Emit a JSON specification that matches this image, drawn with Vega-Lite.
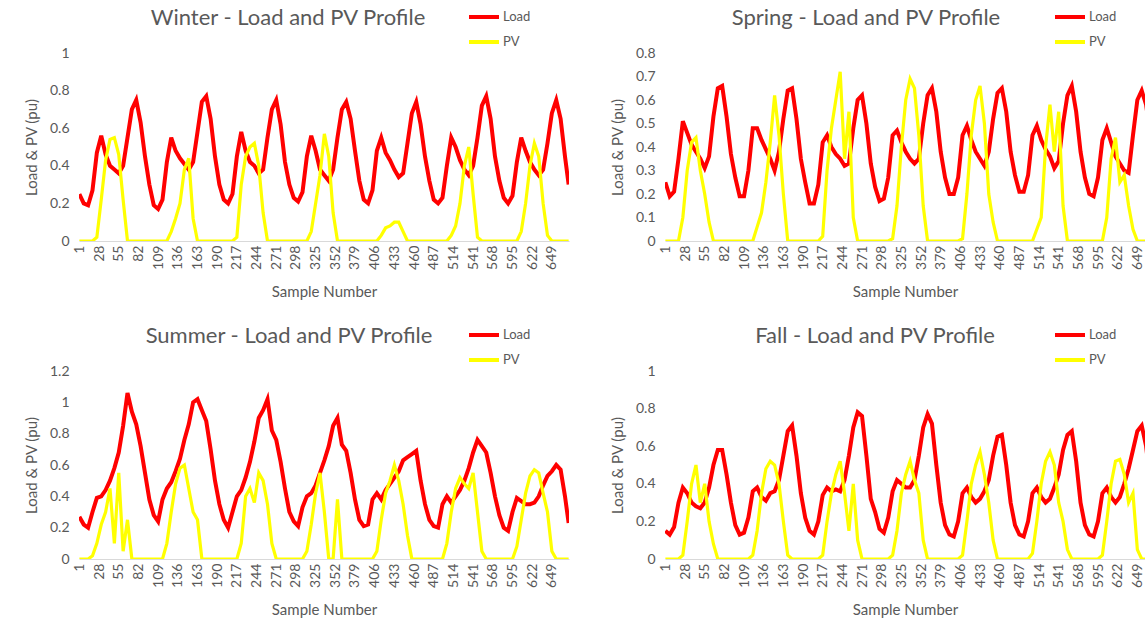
{
"$schema": "https://vega.github.io/schema/vega-lite/v6.json",
"background": "white",
"padding": {"left": 24, "top": 0, "right": 0, "bottom": 0},
"config": {
  "font": "Lato",
  "view": {"stroke": null},
  "axis": {"labelColor": "#595959", "titleColor": "#595959", "labelFont": "Lato", "titleFont": "Lato", "labelFontSize": 14, "titleFontSize": 15, "titleFontWeight": "normal", "grid": false, "ticks": false, "labelOverlap": false, "labelBound": false, "labelFlush": false},
  "title": {"fontSize": 22, "color": "#595959", "fontWeight": "normal", "font": "Lato", "anchor": "middle", "offset": -30},
  "legend": {"symbolType": "stroke", "symbolStrokeWidth": 4, "symbolSize": 900, "labelFontSize": 13, "labelColor": "#595959", "labelFont": "Lato", "rowPadding": -2, "labelOffset": 2, "direction": "vertical"}
},
"datasets": {"d": [
{"x":1,"wl":0.25,"wp":0,"sl":0.25,"sp":0,"ul":0.27,"up":0,"fl":0.15,"fp":0},
{"x":7,"wl":0.20,"wp":0,"sl":0.19,"sp":0,"ul":0.22,"up":0,"fl":0.13,"fp":0},
{"x":13,"wl":0.19,"wp":0,"sl":0.21,"sp":0,"ul":0.20,"up":0,"fl":0.17,"fp":0},
{"x":19,"wl":0.27,"wp":0,"sl":0.35,"sp":0,"ul":0.30,"up":0.02,"fl":0.30,"fp":0},
{"x":25,"wl":0.47,"wp":0.02,"sl":0.51,"sp":0.1,"ul":0.39,"up":0.1,"fl":0.38,"fp":0.02},
{"x":31,"wl":0.56,"wp":0.22,"sl":0.46,"sp":0.3,"ul":0.40,"up":0.22,"fl":0.35,"fp":0.2},
{"x":37,"wl":0.46,"wp":0.43,"sl":0.41,"sp":0.42,"ul":0.44,"up":0.3,"fl":0.30,"fp":0.4},
{"x":43,"wl":0.40,"wp":0.54,"sl":0.38,"sp":0.44,"ul":0.50,"up":0.45,"fl":0.28,"fp":0.5},
{"x":49,"wl":0.38,"wp":0.55,"sl":0.35,"sp":0.3,"ul":0.58,"up":0.1,"fl":0.27,"fp":0.3},
{"x":55,"wl":0.36,"wp":0.46,"sl":0.31,"sp":0.2,"ul":0.68,"up":0.55,"fl":0.30,"fp":0.4},
{"x":61,"wl":0.40,"wp":0.22,"sl":0.36,"sp":0.08,"ul":0.85,"up":0.05,"fl":0.38,"fp":0.2},
{"x":67,"wl":0.55,"wp":0,"sl":0.53,"sp":0,"ul":1.06,"up":0.25,"fl":0.50,"fp":0.08},
{"x":73,"wl":0.70,"wp":0,"sl":0.65,"sp":0,"ul":0.94,"up":0,"fl":0.58,"fp":0},
{"x":79,"wl":0.75,"wp":0,"sl":0.66,"sp":0,"ul":0.86,"up":0,"fl":0.58,"fp":0},
{"x":85,"wl":0.63,"wp":0,"sl":0.53,"sp":0,"ul":0.72,"up":0,"fl":0.45,"fp":0},
{"x":91,"wl":0.45,"wp":0,"sl":0.37,"sp":0,"ul":0.55,"up":0,"fl":0.30,"fp":0},
{"x":97,"wl":0.30,"wp":0,"sl":0.27,"sp":0,"ul":0.38,"up":0,"fl":0.18,"fp":0},
{"x":103,"wl":0.19,"wp":0,"sl":0.19,"sp":0,"ul":0.28,"up":0,"fl":0.13,"fp":0},
{"x":109,"wl":0.17,"wp":0,"sl":0.19,"sp":0,"ul":0.24,"up":0,"fl":0.14,"fp":0},
{"x":115,"wl":0.22,"wp":0,"sl":0.30,"sp":0,"ul":0.38,"up":0,"fl":0.22,"fp":0},
{"x":121,"wl":0.42,"wp":0,"sl":0.48,"sp":0,"ul":0.45,"up":0.1,"fl":0.36,"fp":0.02},
{"x":127,"wl":0.55,"wp":0.05,"sl":0.48,"sp":0.06,"ul":0.49,"up":0.3,"fl":0.38,"fp":0.15},
{"x":133,"wl":0.48,"wp":0.12,"sl":0.43,"sp":0.12,"ul":0.56,"up":0.48,"fl":0.33,"fp":0.35},
{"x":139,"wl":0.44,"wp":0.2,"sl":0.39,"sp":0.25,"ul":0.64,"up":0.58,"fl":0.31,"fp":0.48},
{"x":145,"wl":0.41,"wp":0.38,"sl":0.35,"sp":0.42,"ul":0.76,"up":0.6,"fl":0.35,"fp":0.52},
{"x":151,"wl":0.38,"wp":0.44,"sl":0.30,"sp":0.62,"ul":0.86,"up":0.45,"fl":0.36,"fp":0.5},
{"x":157,"wl":0.42,"wp":0.12,"sl":0.38,"sp":0.45,"ul":1.00,"up":0.3,"fl":0.42,"fp":0.4},
{"x":163,"wl":0.58,"wp":0,"sl":0.52,"sp":0.2,"ul":1.02,"up":0.25,"fl":0.55,"fp":0.2},
{"x":169,"wl":0.74,"wp":0,"sl":0.64,"sp":0,"ul":0.95,"up":0,"fl":0.68,"fp":0.02},
{"x":175,"wl":0.77,"wp":0,"sl":0.65,"sp":0,"ul":0.88,"up":0,"fl":0.71,"fp":0},
{"x":181,"wl":0.65,"wp":0,"sl":0.52,"sp":0,"ul":0.70,"up":0,"fl":0.55,"fp":0},
{"x":187,"wl":0.45,"wp":0,"sl":0.35,"sp":0,"ul":0.50,"up":0,"fl":0.35,"fp":0},
{"x":193,"wl":0.30,"wp":0,"sl":0.25,"sp":0,"ul":0.35,"up":0,"fl":0.22,"fp":0},
{"x":199,"wl":0.22,"wp":0,"sl":0.16,"sp":0,"ul":0.25,"up":0,"fl":0.15,"fp":0},
{"x":205,"wl":0.20,"wp":0,"sl":0.16,"sp":0,"ul":0.20,"up":0,"fl":0.13,"fp":0},
{"x":211,"wl":0.25,"wp":0,"sl":0.24,"sp":0,"ul":0.30,"up":0,"fl":0.20,"fp":0},
{"x":217,"wl":0.45,"wp":0.02,"sl":0.42,"sp":0.02,"ul":0.40,"up":0,"fl":0.34,"fp":0.02},
{"x":223,"wl":0.58,"wp":0.3,"sl":0.45,"sp":0.3,"ul":0.44,"up":0.1,"fl":0.38,"fp":0.2},
{"x":229,"wl":0.48,"wp":0.45,"sl":0.40,"sp":0.48,"ul":0.52,"up":0.4,"fl":0.36,"fp":0.35},
{"x":235,"wl":0.42,"wp":0.5,"sl":0.37,"sp":0.6,"ul":0.62,"up":0.45,"fl":0.37,"fp":0.45},
{"x":241,"wl":0.40,"wp":0.52,"sl":0.35,"sp":0.72,"ul":0.75,"up":0.36,"fl":0.36,"fp":0.52},
{"x":247,"wl":0.36,"wp":0.4,"sl":0.32,"sp":0.35,"ul":0.90,"up":0.55,"fl":0.42,"fp":0.35},
{"x":253,"wl":0.38,"wp":0.15,"sl":0.33,"sp":0.55,"ul":0.95,"up":0.5,"fl":0.55,"fp":0.15},
{"x":259,"wl":0.55,"wp":0,"sl":0.48,"sp":0.1,"ul":1.02,"up":0.35,"fl":0.70,"fp":0.4},
{"x":265,"wl":0.70,"wp":0,"sl":0.60,"sp":0,"ul":0.82,"up":0.1,"fl":0.78,"fp":0.1},
{"x":271,"wl":0.75,"wp":0,"sl":0.62,"sp":0,"ul":0.76,"up":0,"fl":0.76,"fp":0},
{"x":277,"wl":0.62,"wp":0,"sl":0.50,"sp":0,"ul":0.62,"up":0,"fl":0.55,"fp":0},
{"x":283,"wl":0.42,"wp":0,"sl":0.33,"sp":0,"ul":0.45,"up":0,"fl":0.32,"fp":0},
{"x":289,"wl":0.30,"wp":0,"sl":0.23,"sp":0,"ul":0.30,"up":0,"fl":0.25,"fp":0},
{"x":295,"wl":0.23,"wp":0,"sl":0.17,"sp":0,"ul":0.24,"up":0,"fl":0.16,"fp":0},
{"x":301,"wl":0.21,"wp":0,"sl":0.18,"sp":0,"ul":0.21,"up":0,"fl":0.14,"fp":0},
{"x":307,"wl":0.26,"wp":0,"sl":0.27,"sp":0,"ul":0.33,"up":0,"fl":0.22,"fp":0},
{"x":313,"wl":0.45,"wp":0,"sl":0.45,"sp":0.01,"ul":0.40,"up":0.05,"fl":0.36,"fp":0.02},
{"x":319,"wl":0.56,"wp":0.05,"sl":0.47,"sp":0.15,"ul":0.42,"up":0.22,"fl":0.42,"fp":0.15},
{"x":325,"wl":0.48,"wp":0.2,"sl":0.42,"sp":0.4,"ul":0.47,"up":0.42,"fl":0.40,"fp":0.35},
{"x":331,"wl":0.38,"wp":0.35,"sl":0.38,"sp":0.6,"ul":0.55,"up":0.55,"fl":0.38,"fp":0.45},
{"x":337,"wl":0.35,"wp":0.57,"sl":0.35,"sp":0.69,"ul":0.63,"up":0.3,"fl":0.38,"fp":0.52},
{"x":343,"wl":0.32,"wp":0.45,"sl":0.33,"sp":0.65,"ul":0.72,"up":0,"fl":0.42,"fp":0.42},
{"x":349,"wl":0.38,"wp":0.15,"sl":0.35,"sp":0.45,"ul":0.85,"up":0,"fl":0.55,"fp":0.35},
{"x":355,"wl":0.55,"wp":0,"sl":0.50,"sp":0.15,"ul":0.90,"up":0.38,"fl":0.70,"fp":0.1},
{"x":361,"wl":0.70,"wp":0,"sl":0.62,"sp":0,"ul":0.73,"up":0,"fl":0.77,"fp":0},
{"x":367,"wl":0.74,"wp":0,"sl":0.65,"sp":0,"ul":0.69,"up":0,"fl":0.72,"fp":0},
{"x":373,"wl":0.65,"wp":0,"sl":0.55,"sp":0,"ul":0.55,"up":0,"fl":0.50,"fp":0},
{"x":379,"wl":0.48,"wp":0,"sl":0.38,"sp":0,"ul":0.38,"up":0,"fl":0.30,"fp":0},
{"x":385,"wl":0.32,"wp":0,"sl":0.27,"sp":0,"ul":0.25,"up":0,"fl":0.18,"fp":0},
{"x":391,"wl":0.22,"wp":0,"sl":0.20,"sp":0,"ul":0.21,"up":0,"fl":0.13,"fp":0},
{"x":397,"wl":0.20,"wp":0,"sl":0.20,"sp":0,"ul":0.22,"up":0,"fl":0.12,"fp":0},
{"x":403,"wl":0.27,"wp":0,"sl":0.27,"sp":0,"ul":0.38,"up":0,"fl":0.20,"fp":0},
{"x":409,"wl":0.48,"wp":0,"sl":0.45,"sp":0.01,"ul":0.42,"up":0.05,"fl":0.35,"fp":0.02},
{"x":415,"wl":0.55,"wp":0.03,"sl":0.49,"sp":0.2,"ul":0.38,"up":0.25,"fl":0.38,"fp":0.2},
{"x":421,"wl":0.47,"wp":0.07,"sl":0.43,"sp":0.45,"ul":0.44,"up":0.42,"fl":0.33,"fp":0.4},
{"x":427,"wl":0.43,"wp":0.08,"sl":0.38,"sp":0.6,"ul":0.48,"up":0.5,"fl":0.30,"fp":0.5},
{"x":433,"wl":0.38,"wp":0.1,"sl":0.35,"sp":0.66,"ul":0.52,"up":0.6,"fl":0.32,"fp":0.57},
{"x":439,"wl":0.34,"wp":0.1,"sl":0.32,"sp":0.5,"ul":0.56,"up":0.5,"fl":0.36,"fp":0.45},
{"x":445,"wl":0.36,"wp":0.05,"sl":0.38,"sp":0.2,"ul":0.63,"up":0.35,"fl":0.42,"fp":0.3},
{"x":451,"wl":0.52,"wp":0,"sl":0.52,"sp":0.08,"ul":0.65,"up":0.15,"fl":0.55,"fp":0.1},
{"x":457,"wl":0.68,"wp":0,"sl":0.63,"sp":0,"ul":0.67,"up":0,"fl":0.65,"fp":0},
{"x":463,"wl":0.74,"wp":0,"sl":0.65,"sp":0,"ul":0.69,"up":0,"fl":0.66,"fp":0},
{"x":469,"wl":0.62,"wp":0,"sl":0.55,"sp":0,"ul":0.50,"up":0,"fl":0.50,"fp":0},
{"x":475,"wl":0.45,"wp":0,"sl":0.38,"sp":0,"ul":0.35,"up":0,"fl":0.30,"fp":0},
{"x":481,"wl":0.32,"wp":0,"sl":0.28,"sp":0,"ul":0.25,"up":0,"fl":0.18,"fp":0},
{"x":487,"wl":0.22,"wp":0,"sl":0.21,"sp":0,"ul":0.21,"up":0,"fl":0.13,"fp":0},
{"x":493,"wl":0.20,"wp":0,"sl":0.21,"sp":0,"ul":0.20,"up":0,"fl":0.12,"fp":0},
{"x":499,"wl":0.23,"wp":0,"sl":0.28,"sp":0,"ul":0.35,"up":0,"fl":0.20,"fp":0},
{"x":505,"wl":0.40,"wp":0,"sl":0.45,"sp":0,"ul":0.40,"up":0.1,"fl":0.35,"fp":0.03},
{"x":511,"wl":0.55,"wp":0.03,"sl":0.49,"sp":0.05,"ul":0.36,"up":0.3,"fl":0.38,"fp":0.2},
{"x":517,"wl":0.50,"wp":0.08,"sl":0.43,"sp":0.1,"ul":0.40,"up":0.45,"fl":0.33,"fp":0.4},
{"x":523,"wl":0.43,"wp":0.2,"sl":0.39,"sp":0.4,"ul":0.44,"up":0.52,"fl":0.30,"fp":0.52},
{"x":529,"wl":0.38,"wp":0.4,"sl":0.36,"sp":0.58,"ul":0.50,"up":0.48,"fl":0.32,"fp":0.57},
{"x":535,"wl":0.35,"wp":0.5,"sl":0.31,"sp":0.38,"ul":0.58,"up":0.45,"fl":0.38,"fp":0.5},
{"x":541,"wl":0.40,"wp":0.25,"sl":0.34,"sp":0.55,"ul":0.68,"up":0.55,"fl":0.45,"fp":0.3},
{"x":547,"wl":0.55,"wp":0.02,"sl":0.50,"sp":0.15,"ul":0.76,"up":0.3,"fl":0.58,"fp":0.2},
{"x":553,"wl":0.72,"wp":0,"sl":0.62,"sp":0,"ul":0.72,"up":0.05,"fl":0.66,"fp":0.05},
{"x":559,"wl":0.77,"wp":0,"sl":0.66,"sp":0,"ul":0.68,"up":0,"fl":0.68,"fp":0},
{"x":565,"wl":0.65,"wp":0,"sl":0.55,"sp":0,"ul":0.55,"up":0,"fl":0.52,"fp":0},
{"x":571,"wl":0.45,"wp":0,"sl":0.38,"sp":0,"ul":0.40,"up":0,"fl":0.30,"fp":0},
{"x":577,"wl":0.32,"wp":0,"sl":0.27,"sp":0,"ul":0.28,"up":0,"fl":0.18,"fp":0},
{"x":583,"wl":0.23,"wp":0,"sl":0.20,"sp":0,"ul":0.20,"up":0,"fl":0.13,"fp":0},
{"x":589,"wl":0.20,"wp":0,"sl":0.19,"sp":0,"ul":0.18,"up":0,"fl":0.12,"fp":0},
{"x":595,"wl":0.24,"wp":0,"sl":0.27,"sp":0,"ul":0.30,"up":0,"fl":0.20,"fp":0},
{"x":601,"wl":0.42,"wp":0,"sl":0.43,"sp":0,"ul":0.39,"up":0.08,"fl":0.35,"fp":0.02},
{"x":607,"wl":0.55,"wp":0.05,"sl":0.48,"sp":0.1,"ul":0.37,"up":0.25,"fl":0.38,"fp":0.2},
{"x":613,"wl":0.48,"wp":0.2,"sl":0.42,"sp":0.35,"ul":0.35,"up":0.42,"fl":0.33,"fp":0.4},
{"x":619,"wl":0.42,"wp":0.4,"sl":0.36,"sp":0.44,"ul":0.35,"up":0.53,"fl":0.30,"fp":0.52},
{"x":625,"wl":0.38,"wp":0.52,"sl":0.33,"sp":0.25,"ul":0.36,"up":0.57,"fl":0.33,"fp":0.53},
{"x":631,"wl":0.35,"wp":0.45,"sl":0.30,"sp":0.28,"ul":0.40,"up":0.55,"fl":0.40,"fp":0.45},
{"x":637,"wl":0.38,"wp":0.2,"sl":0.29,"sp":0.15,"ul":0.47,"up":0.42,"fl":0.48,"fp":0.3},
{"x":643,"wl":0.52,"wp":0.03,"sl":0.45,"sp":0.05,"ul":0.53,"up":0.3,"fl":0.58,"fp":0.35},
{"x":649,"wl":0.68,"wp":0,"sl":0.60,"sp":0,"ul":0.56,"up":0.05,"fl":0.68,"fp":0.05},
{"x":655,"wl":0.75,"wp":0,"sl":0.64,"sp":0,"ul":0.60,"up":0,"fl":0.71,"fp":0},
{"x":661,"wl":0.65,"wp":0,"sl":0.58,"sp":0,"ul":0.57,"up":0,"fl":0.60,"fp":0},
{"x":667,"wl":0.45,"wp":0,"sl":0.45,"sp":0,"ul":0.40,"up":0,"fl":0.40,"fp":0},
{"x":672,"wl":0.30,"wp":0,"sl":0.38,"sp":0,"ul":0.23,"up":0,"fl":0.25,"fp":0}
]},
"data": {"name": "d"},
"columns": 2,
"spacing": {"row": 130, "column": 96},
"bounds": "flush",
"resolve": {"scale": {"color": "independent", "y": "independent", "x": "independent"}, "legend": {"color": "independent"}},
"concat": [
{
  "width": 490, "height": 188,
  "title": {"text": "Winter - Load and PV Profile", "dx": -36},
  "encoding": {"x": {"field": "x", "type": "quantitative", "scale": {"domain": [0.5, 672.5], "nice": false, "zero": false}, "axis": {"values": [1,28,55,82,109,136,163,190,217,244,271,298,325,352,379,406,433,460,487,514,541,568,595,622,649], "format": "d", "labelAngle": -90, "title": "Sample Number", "domainColor": "#d9d9d9", "labelPadding": 4, "titlePadding": 15}}},
  "layer": [
    {"mark": {"type": "line", "strokeWidth": 4, "clip": true}, "encoding": {"y": {"field": "wl", "type": "quantitative", "scale": {"domain": [0, 1], "nice": false}, "axis": {"values": [0,0.2,0.4,0.6,0.8,1], "format": "~g", "title": "Load & PV (pu)", "domain": false, "labelPadding": 10, "titlePadding": 10, "labelOverlap": false}}, "color": {"datum": "Load", "scale": {"domain": ["Load", "PV"], "range": ["#FF0000", "#FFFF00"]}, "legend": {"orient": "none", "legendX": 388, "legendY": -53, "title": null}}}},
    {"mark": {"type": "line", "strokeWidth": 3.2, "clip": true}, "encoding": {"y": {"field": "wp", "type": "quantitative", "axis": {"values": [0,0.2,0.4,0.6,0.8,1], "format": "~g", "title": "Load & PV (pu)", "domain": false, "labelPadding": 10, "titlePadding": 10, "labelOverlap": false}}, "color": {"datum": "PV"}}}
  ]
},
{
  "width": 480, "height": 188,
  "title": {"text": "Spring - Load and PV Profile", "dx": -39},
  "encoding": {"x": {"field": "x", "type": "quantitative", "scale": {"domain": [0.5, 659.5], "nice": false, "zero": false}, "axis": {"values": [1,28,55,82,109,136,163,190,217,244,271,298,325,352,379,406,433,460,487,514,541,568,595,622,649], "format": "d", "labelAngle": -90, "title": "Sample Number", "domainColor": "#d9d9d9", "labelPadding": 4, "titlePadding": 15}}},
  "layer": [
    {"mark": {"type": "line", "strokeWidth": 4, "clip": true}, "encoding": {"y": {"field": "sl", "type": "quantitative", "scale": {"domain": [0, 0.8], "nice": false}, "axis": {"values": [0,0.1,0.2,0.3,0.4,0.5,0.6,0.7,0.8], "format": "~g", "title": "Load & PV (pu)", "domain": false, "labelPadding": 10, "titlePadding": 10, "labelOverlap": false}}, "color": {"datum": "Load", "scale": {"domain": ["Load", "PV"], "range": ["#FF0000", "#FFFF00"]}, "legend": {"orient": "none", "legendX": 388, "legendY": -53, "title": null}}}},
    {"mark": {"type": "line", "strokeWidth": 3.2, "clip": true}, "encoding": {"y": {"field": "sp", "type": "quantitative", "axis": {"values": [0,0.1,0.2,0.3,0.4,0.5,0.6,0.7,0.8], "format": "~g", "title": "Load & PV (pu)", "domain": false, "labelPadding": 10, "titlePadding": 10, "labelOverlap": false}}, "color": {"datum": "PV"}}}
  ]
},
{
  "width": 490, "height": 188,
  "title": {"text": "Summer - Load and PV Profile", "dx": -35},
  "encoding": {"x": {"field": "x", "type": "quantitative", "scale": {"domain": [0.5, 672.5], "nice": false, "zero": false}, "axis": {"values": [1,28,55,82,109,136,163,190,217,244,271,298,325,352,379,406,433,460,487,514,541,568,595,622,649], "format": "d", "labelAngle": -90, "title": "Sample Number", "domainColor": "#d9d9d9", "labelPadding": 4, "titlePadding": 15}}},
  "layer": [
    {"mark": {"type": "line", "strokeWidth": 4, "clip": true}, "encoding": {"y": {"field": "ul", "type": "quantitative", "scale": {"domain": [0, 1.2], "nice": false}, "axis": {"values": [0,0.2,0.4,0.6,0.8,1,1.2], "format": "~g", "title": "Load & PV (pu)", "domain": false, "labelPadding": 10, "titlePadding": 10, "labelOverlap": false}}, "color": {"datum": "Load", "scale": {"domain": ["Load", "PV"], "range": ["#FF0000", "#FFFF00"]}, "legend": {"orient": "none", "legendX": 388, "legendY": -53, "title": null}}}},
    {"mark": {"type": "line", "strokeWidth": 3.2, "clip": true}, "encoding": {"y": {"field": "up", "type": "quantitative", "axis": {"values": [0,0.2,0.4,0.6,0.8,1,1.2], "format": "~g", "title": "Load & PV (pu)", "domain": false, "labelPadding": 10, "titlePadding": 10, "labelOverlap": false}}, "color": {"datum": "PV"}}}
  ]
},
{
  "width": 480, "height": 188,
  "title": {"text": "Fall - Load and PV Profile", "dx": -30},
  "encoding": {"x": {"field": "x", "type": "quantitative", "scale": {"domain": [0.5, 659.5], "nice": false, "zero": false}, "axis": {"values": [1,28,55,82,109,136,163,190,217,244,271,298,325,352,379,406,433,460,487,514,541,568,595,622,649], "format": "d", "labelAngle": -90, "title": "Sample Number", "domainColor": "#d9d9d9", "labelPadding": 4, "titlePadding": 15}}},
  "layer": [
    {"mark": {"type": "line", "strokeWidth": 4, "clip": true}, "encoding": {"y": {"field": "fl", "type": "quantitative", "scale": {"domain": [0, 1], "nice": false}, "axis": {"values": [0,0.2,0.4,0.6,0.8,1], "format": "~g", "title": "Load & PV (pu)", "domain": false, "labelPadding": 10, "titlePadding": 10, "labelOverlap": false}}, "color": {"datum": "Load", "scale": {"domain": ["Load", "PV"], "range": ["#FF0000", "#FFFF00"]}, "legend": {"orient": "none", "legendX": 388, "legendY": -53, "title": null}}}},
    {"mark": {"type": "line", "strokeWidth": 3.2, "clip": true}, "encoding": {"y": {"field": "fp", "type": "quantitative", "axis": {"values": [0,0.2,0.4,0.6,0.8,1], "format": "~g", "title": "Load & PV (pu)", "domain": false, "labelPadding": 10, "titlePadding": 10, "labelOverlap": false}}, "color": {"datum": "PV"}}}
  ]
}
]
}
